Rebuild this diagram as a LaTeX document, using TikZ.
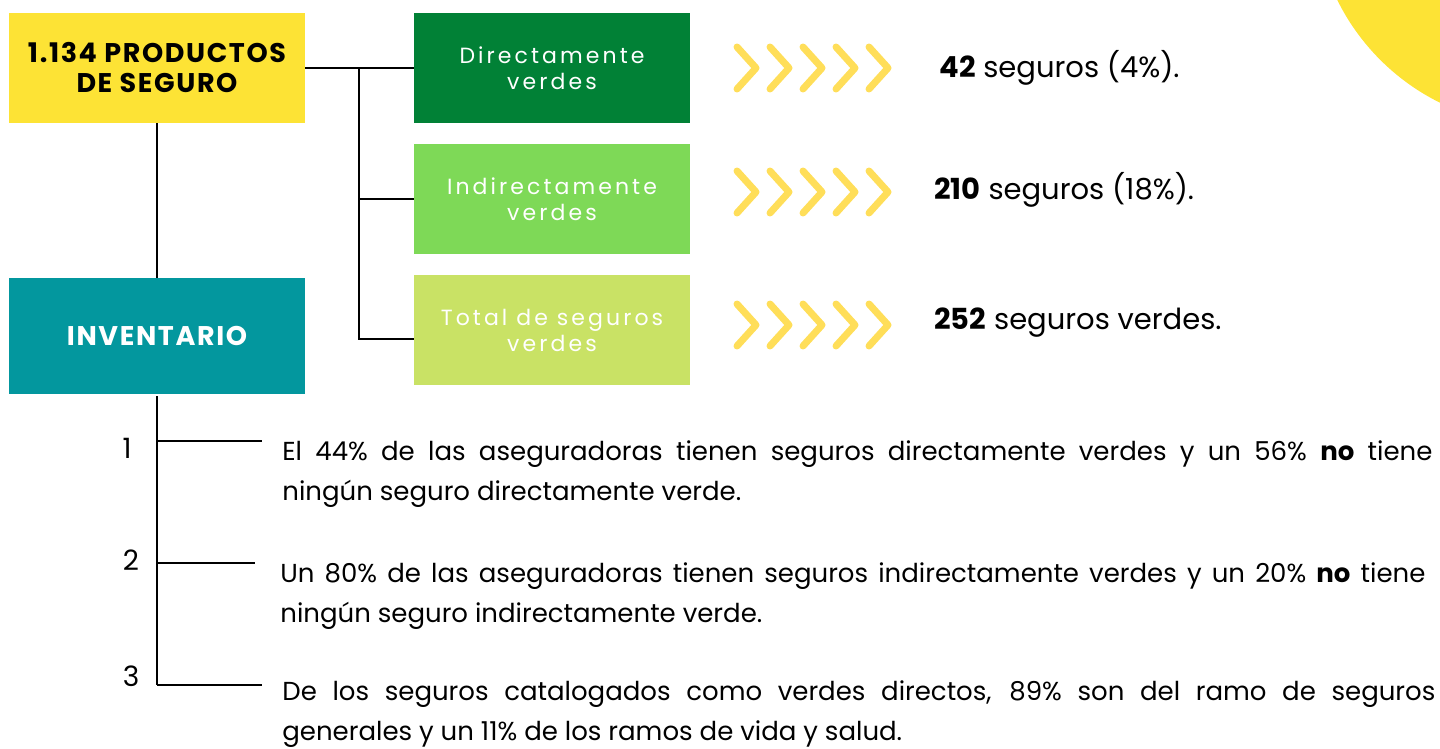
\documentclass[tikz,border=0pt]{standalone}
\usepackage{fontspec}
\setmainfont{Poppins}
\newfontfamily\titulo[LetterSpace=6]{Poppins}
\newfontfamily\espaciada[LetterSpace=14]{Poppins}
\usepackage{tikz}
\usetikzlibrary{positioning, arrows.meta}
\definecolor{amarillo}{HTML}{FDE335}
\definecolor{chevron}{HTML}{FFDE59}
\definecolor{verdeoscuro}{HTML}{018136}
\definecolor{verdeclaro}{HTML}{7ED957}
\definecolor{lima}{HTML}{C9E265}
\definecolor{turquesa}{HTML}{03979E}

\begin{document}
\begin{tikzpicture} [x = 0.5pt, y = -0.5pt,
			node distance = 65.5pt and 197.5pt,
			on grid,
			caja/.style = {minimum width = 148pt, minimum height = 55pt,
				inner sep = 0pt, align = center},
			encabezado/.style = {caja,
				font = \titulo\bfseries\fontsize{13.5}{15}\selectfont
			},
			rama/.style = {caja, minimum width = 138pt, text = white,
				font = \espaciada\fontsize{11}{13}\selectfont
			},
			linea/.style = {line width = 1pt, black},
			flecha/.style = {line width = 3.5pt, line cap = round,
				line join = round, chevron},
			resultado/.style = {anchor = west, inner sep = 0pt,
				font = \fontsize{14.5}{17}\selectfont},
			parrafo/.style = {anchor = north west, inner sep = 0pt,
				align = justify, font = \fontsize{13}{20}\selectfont},
			numero/.style = {inner sep = 0pt, font = \fontsize{14}{16}\selectfont}
			]
			\useasboundingbox (0,0) rectangle (1440,749);
			\clip (0,0) rectangle (1440,749);
			% Circulo
			\fill [amarillo] (1540,-100) circle [radius = 113pt];
			% Cajas
			\node (productos) [encabezado, fill = amarillo] at (157,68) {1.134 PRODUCTOS\\DE SEGURO};
			\node (directos) [rama, fill = verdeoscuro, right = of productos] {Directamente\\verdes};
			\node (indirectos) [rama, fill = verdeclaro, below = of directos] {Indirectamente\\verdes};
			\node (total) [rama, fill = lima, below = of indirectos] {Total de seguros\\verdes};
			\node (inventario) [encabezado, fill = turquesa, text = white,
				minimum height = 58pt] at (157,336) {INVENTARIO};
			% Resultados
			\foreach \fila in {68,192,325}
				\foreach \i in {0,...,4}
					\draw [flecha] (737+33*\i,\fila-21) -- ++(19,21) -- ++(-19,21);
			\node (res1) [resultado] at (939,68) {\textbf{42} seguros (4\%).};
			\node (res2) [resultado] at (934,190) {\textbf{210} seguros (18\%).};
			\node (res3) [resultado] at (934,323) {\textbf{252} seguros verdes.};
			% Conectores
			\coordinate (bifurca) at (359,68);
			\draw [linea] (productos.east) -- (directos.west);
			\draw [linea] (bifurca) |- ([yshift = -4.5pt]total.west);
			\draw [linea] (bifurca |- indirectos.west) -- (indirectos.west);
			\draw [linea] (productos.south) -- (inventario.north);
			% Puntos
			\coordinate (r1) at (157,441);
			\coordinate (r2) at (157,563);
			\coordinate (r3) at (157,685);
			\coordinate (f1) at (262,441);
			\coordinate (f2) at (255,563);
			\coordinate (f3) at (262,685);
			\draw [linea] ([yshift = -1pt]inventario.south) -- (r3);
			\draw [linea] (r1) -- (f1);
			\draw [linea] (r2) -- (f2);
			\draw [linea] (r3) -- (f3);
			\node (n1) [numero] at (127,448) {1};
			\node (n2) [numero] at (131,560) {2};
			\node (n3) [numero] at (131,676) {3};
			\node (p1) [parrafo, text width = 575pt] at (282,440) {El 44\% de las aseguradoras tienen seguros directamente verdes y un 56\% \textbf{no} tiene\linebreak ningún seguro directamente verde.};
			\node (p2) [parrafo, text width = 572.5pt] at (280,562) {Un 80\% de las aseguradoras tienen seguros indirectamente verdes y un 20\% \textbf{no} tiene\linebreak ningún seguro indirectamente verde.};
			\node (p3) [parrafo, text width = 576.5pt] at (282,680) {De los seguros catalogados como verdes directos, 89\% son del ramo de seguros\linebreak generales y un 11\% de los ramos de vida y salud.};
		\end{tikzpicture}
\end{document}
